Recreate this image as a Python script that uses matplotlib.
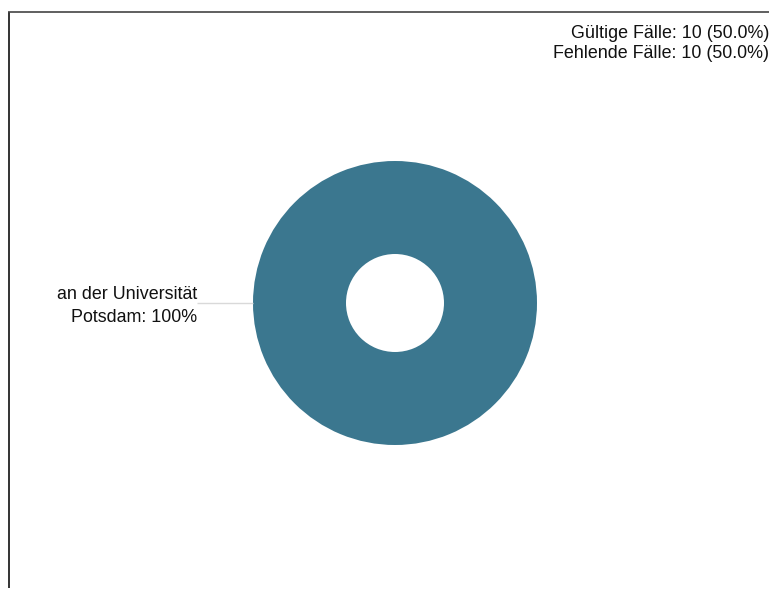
import matplotlib
matplotlib.use("Agg")
import matplotlib.pyplot as plt
from matplotlib.lines import Line2D

categories = ["an der Universität\nPotsdam"]
values = [10]
shares = ["100%"]
info_lines = ["Gültige Fälle: 10 (50.0%)", "Fehlende Fälle: 10 (50.0%)"]
colors = ["#3b778f"]

plt.rcParams['font.family'] = ['Liberation Sans', 'DejaVu Sans']

W, H = 769, 589
fig = plt.figure(figsize=(W / 100, H / 100), dpi=100)
ax = fig.add_axes([0, 0, 1, 1])
ax.set_xlim(0, W)
ax.set_ylim(H, 0)
ax.set_aspect('equal')
ax.axis('off')

cx, cy, R, r = 395, 303, 142, 49
ax.pie(values, colors=colors, center=(cx, cy), radius=R, startangle=90,
       counterclock=False, wedgeprops=dict(width=R - r, linewidth=0))
ax.set_xlim(0, W)
ax.set_ylim(H, 0)

# leader line and label
ax.plot([197, cx - R], [cy, cy], color="#d9d9d9", lw=1, solid_capstyle='butt')
ax.text(197, cy + 3, f"{categories[0]}: {shares[0]}", ha='right', va='center',
        fontsize=12.9, color='#111111', linespacing=1.42)

# info text top right
ax.text(769, 34, info_lines[0], ha='right', va='center', fontsize=12.9, color='#111111')
ax.text(769, 54, info_lines[1], ha='right', va='center', fontsize=12.9, color='#111111')

# frame lines (left and top)
fig.add_artist(Line2D([8.5 / W, 8.5 / W], [1 - 11.5 / H, 1 - 588 / H], color='#111111', lw=1.2,
                      solid_capstyle='butt'))
fig.add_artist(Line2D([8 / W, 1], [1 - 11.5 / H, 1 - 11.5 / H], color='#444444', lw=1.2,
                      solid_capstyle='butt'))

fig.savefig("out.png", dpi=100)
